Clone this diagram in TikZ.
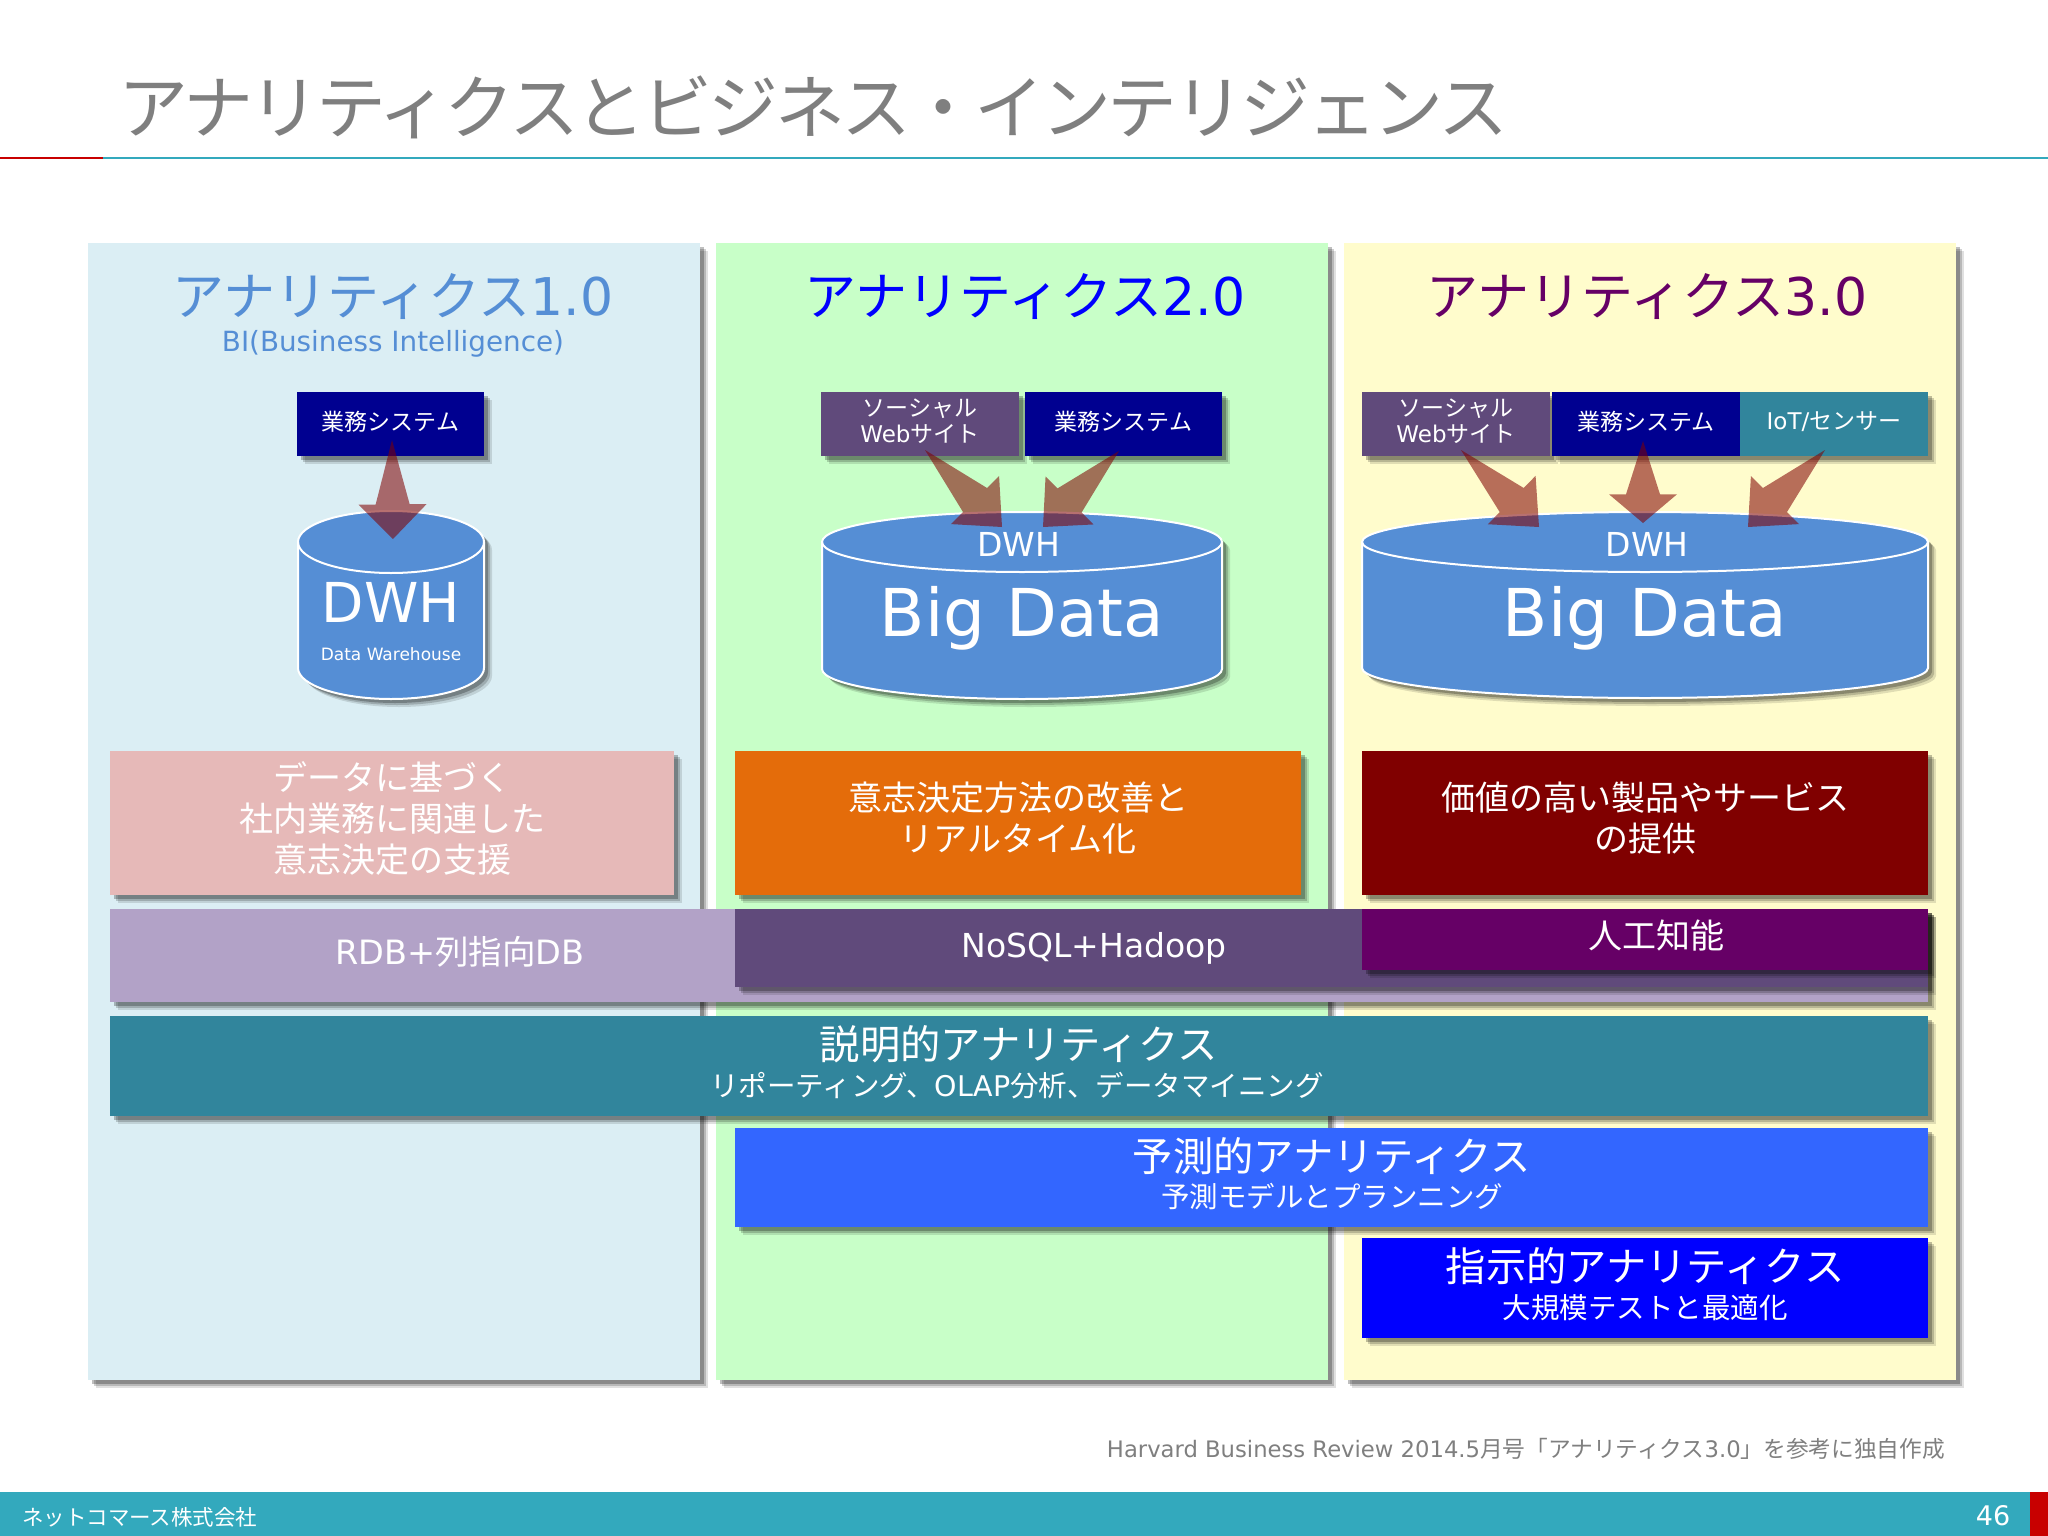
\documentclass[tikz,border=0pt]{standalone}
\usepackage{fontspec}
\setmainfont{DejaVu Sans}
\newfontfamily\jp{Noto Sans CJK JP}
\newfontfamily\jptitle[LetterSpace=-5]{Noto Sans CJK JP}
\usetikzlibrary{shadows,calc}
\definecolor{titlegray}{HTML}{7F7F7F}
\definecolor{footteal}{HTML}{33A9BD}
\definecolor{footred}{HTML}{C80000}
\definecolor{oneblue}{HTML}{558ED5}
\definecolor{navybox}{HTML}{000090}
\definecolor{socialbox}{HTML}{604A7B}
\definecolor{tealbox}{HTML}{31859C}
\definecolor{lilac}{HTML}{B2A2C7}
\definecolor{plum}{HTML}{660066}
\definecolor{maroonred}{HTML}{800000}
\definecolor{panelblue}{HTML}{DBEEF4}
\definecolor{panelgreen}{HTML}{C8FFC8}
\definecolor{panelyellow}{HTML}{FFFCCC}
\definecolor{pinkbox}{HTML}{E6B9B8}
\definecolor{orangebox}{HTML}{E46C0A}
\definecolor{midblue}{HTML}{3366FF}
\newcommand{\fs}[1]{\fontsize{#1}{1.2\dimexpr#1pt\relax}\selectfont}
\newcommand{\flowarrow}[2]{
    \coordinate (neck) at ($(#1)!0.65!(#2)$);
    \fill[flow] (#1) -- ($(neck)!17pt!90:(#2)$) -- ($(neck)!34pt!90:(#2)$) -- (#2) -- ($(neck)!34pt!-90:(#2)$) -- ($(neck)!17pt!-90:(#2)$) -- cycle;
}
\newcommand{\storecan}[5]{
    \pgfmathsetmacro\canrx{(#2-#1)/2}
    \draw[can] (#1,#3+#5) arc[start angle=180,end angle=0,x radius=\canrx pt,y radius=#5pt] -- (#2,#4-#5) arc[start angle=0,end angle=-180,x radius=\canrx pt,y radius=#5pt] -- cycle;
    \draw[canrim] (#1,#3+#5) arc[start angle=180,end angle=360,x radius=\canrx pt,y radius=#5pt];
}
\begin{document}
\begin{tikzpicture}[x=1pt,y=-1pt]
    \tikzstyle{every node}=[inner sep=0pt,outer sep=0pt,font=\jp]
    \tikzstyle{softshadow}=[drop shadow={shadow xshift=8pt,shadow yshift=-8pt,opacity=.12,fill=black},drop shadow={shadow xshift=6pt,shadow yshift=-6pt,opacity=.18,fill=black},drop shadow={shadow xshift=4pt,shadow yshift=-4pt,opacity=.25,fill=black}]
    \tikzstyle{flat}=[rectangle,softshadow]
    \tikzstyle{panel}=[flat,minimum width=612pt,minimum height=1137pt]
    \tikzstyle{bar}=[flat,text=white,align=center,font=\jp\fs{34},text depth=12pt]
    \tikzstyle{srcbox}=[flat,text=white,align=center,minimum height=64pt,font=\jp\fs{23},text depth=7pt]
    \tikzstyle{can}=[fill=oneblue,draw=white,line width=2pt,softshadow]
    \tikzstyle{canrim}=[draw=white,line width=2pt]
    \tikzstyle{flow}=[fill=maroonred,opacity=.56]
    \tikzstyle{plate}=[text=white]
    \useasboundingbox (0,0) rectangle (2048,1536);
    \node[text=titlegray,font=\jptitle\fs{70},anchor=west] (title) at (118,107) {アナリティクスとビジネス・インテリジェンス};
    \coordinate (rule0) at (0,158);
    \coordinate (rule1) at (103,158);
    \coordinate (rule2) at (2048,158);
    \draw[footred,line width=2pt] (rule0) -- (rule1);
    \draw[footteal,line width=2pt] (rule1) -- (rule2);
    \node[fill=footteal,minimum width=2030pt,minimum height=44pt,anchor=north west] (foot) at (0,1492) {};
    \node[fill=footred,minimum width=18pt,minimum height=44pt,anchor=north west] (footend) at (2030,1492) {};
    \node[text=white,font=\jp\fs{21.5},anchor=west] (company) at (22,1517) {ネットコマース株式会社};
    \node[text=white,font=\fs{27}] (pageno) at (1993,1516) {46};
    \node[text=titlegray,font=\fs{22.7},anchor=east] (source) at (1945,1449) {Harvard Business Review 2014.5{\jp 月号「アナリティクス}3.0{\jp 」を参考に独自作成}};
    \node[panel,fill=panelblue] (panelA) at (394,811.5) {};
    \node[panel,fill=panelgreen] (panelB) at (1022,811.5) {};
    \node[panel,fill=panelyellow] (panelC) at (1649.5,811.5) {};
    \node[text=oneblue,font=\fs{52}] (headA) at (393,297) {{\jp アナリティクス}1.0};
    \node[text=oneblue,font=\fs{27.8}] (subA) at (393,344) {BI(Business Intelligence)};
    \node[text=blue,font=\fs{52}] (headB) at (1025,297) {{\jp アナリティクス}2.0};
    \node[text=plum,font=\fs{52}] (headC) at (1647,297) {{\jp アナリティクス}3.0};
    \node[srcbox,fill=navybox,minimum width=187pt] (bizA) at (390.5,424) {業務システム};
    \node[srcbox,fill=socialbox,minimum width=198pt] (socB) at (920,424) {ソーシャル\\[-1pt]{\rmfamily Web}サイト};
    \node[srcbox,fill=navybox,minimum width=197pt] (bizB) at (1123.5,424) {業務システム};
    \node[srcbox,fill=socialbox,minimum width=188pt] (socC) at (1456,424) {ソーシャル\\[-1pt]{\rmfamily Web}サイト};
    \node[srcbox,fill=navybox,minimum width=188pt] (bizC) at (1646,424) {業務システム};
    \node[srcbox,fill=tealbox,minimum width=188pt] (iotC) at (1834,424) {{\rmfamily IoT/}センサー};
    \storecan{298}{484}{511}{699}{31}
    \storecan{822}{1222}{512}{699}{30}
    \storecan{1362}{1928}{512}{698}{30}
    \node[plate,font=\fs{55}] (dwhA) at (391,602) {DWH};
    \node[plate,font=\fs{17}] (dwhAsub) at (391,654) {Data Warehouse};
    \node[plate,font=\fs{33}] (dwhB) at (1019,544) {DWH};
    \node[plate,font=\fs{66}] (bigB) at (1022,618) {Big Data};
    \node[plate,font=\fs{33}] (dwhC) at (1647,544) {DWH};
    \node[plate,font=\fs{66}] (bigC) at (1645,618) {Big Data};
    \coordinate (tailA) at (392,440);
    \coordinate (tipA) at (393,539);
    \coordinate (tailB1) at (925,450);
    \coordinate (tipB1) at (1002,527);
    \coordinate (tailB2) at (1119,451);
    \coordinate (tipB2) at (1043,527);
    \coordinate (tailC1) at (1461,450);
    \coordinate (tipC1) at (1539,527);
    \coordinate (tailC2) at (1643,441);
    \coordinate (tipC2) at (1643,523);
    \coordinate (tailC3) at (1825,450);
    \coordinate (tipC3) at (1748,527);
    \flowarrow{tailA}{tipA}
    \flowarrow{tailB1}{tipB1}
    \flowarrow{tailB2}{tipB2}
    \flowarrow{tailC1}{tipC1}
    \flowarrow{tailC2}{tipC2}
    \flowarrow{tailC3}{tipC3}
    \node[bar,fill=pinkbox,minimum width=564pt,minimum height=144pt] (aimA) at (392,823) {データに基づく\\社内業務に関連した\\意志決定の支援};
    \node[bar,fill=orangebox,minimum width=566pt,minimum height=144pt] (aimB) at (1018,823) {意志決定方法の改善と\\リアルタイム化};
    \node[bar,fill=maroonred,minimum width=566pt,minimum height=144pt] (aimC) at (1645,823) {価値の高い製品やサービス\\の提供};
    \node[bar,fill=lilac,minimum width=1818pt,minimum height=93pt] (rdb) at (1019,955.5) {};
    \node[bar,fill=socialbox,minimum width=1193pt,minimum height=78pt] (nosql) at (1331.5,948) {};
    \node[bar,fill=plum,minimum width=566pt,minimum height=61pt] (ai) at (1645,939.5) {};
    \node[plate,font=\fs{33.5}] (rdbtext) at (460,952) {RDB+{\jp 列指向}DB};
    \node[plate,font=\fs{33}] (nosqltext) at (1094,948) {NoSQL+Hadoop};
    \node[plate,font=\jp\fs{34}] (aitext) at (1656,936) {人工知能};
    \node[bar,fill=tealbox,minimum width=1818pt,minimum height=100pt] (descr) at (1019,1066) {};
    \node[bar,fill=midblue,minimum width=1193pt,minimum height=99pt] (pred) at (1331.5,1177.5) {};
    \node[bar,fill=blue,minimum width=566pt,minimum height=100pt] (presc) at (1645,1288) {};
    \node[plate,font=\jp\fs{40.3}] (descrtext) at (1019,1044) {説明的アナリティクス};
    \node[plate,font=\jp\fs{28.5}] (descrsub) at (1017,1086) {リポーティング、{\rmfamily OLAP}分析、データマイニング};
    \node[plate,font=\jp\fs{40.3}] (predtext) at (1332,1156) {予測的アナリティクス};
    \node[plate,font=\jp\fs{28.5}] (predsub) at (1332,1197) {予測モデルとプランニング};
    \node[plate,font=\jp\fs{40.3}] (presctext) at (1645,1266) {指示的アナリティクス};
    \node[plate,font=\jp\fs{28.5}] (prescsub) at (1645,1308) {大規模テストと最適化};
\end{tikzpicture}
\end{document}
